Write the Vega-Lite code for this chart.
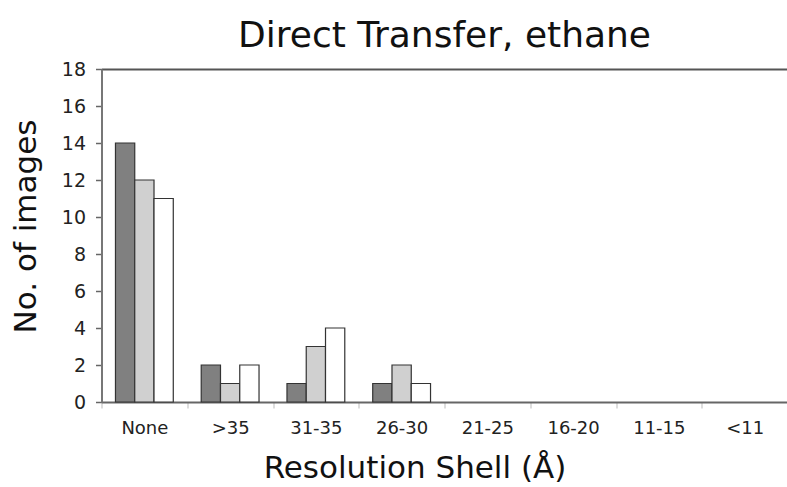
{
  "$schema": "https://vega.github.io/schema/vega-lite/v6.json",
  "width": 686,
  "height": 333,
  "autosize": {"type": "none"},
  "padding": {"left": 101.5, "top": 69, "right": 0, "bottom": 85},
  "background": "white",
  "title": {
    "text": "Direct Transfer, ethane",
    "font": "DejaVu Sans",
    "fontSize": 36,
    "fontWeight": "normal",
    "color": "#111111",
    "anchor": "middle",
    "offset": 5
  },
  "data": {
    "values": [
      {"shell": "None", "series": "A", "count": 14},
      {"shell": "None", "series": "B", "count": 12},
      {"shell": "None", "series": "C", "count": 11},
      {"shell": ">35", "series": "A", "count": 2},
      {"shell": ">35", "series": "B", "count": 1},
      {"shell": ">35", "series": "C", "count": 2},
      {"shell": "31-35", "series": "A", "count": 1},
      {"shell": "31-35", "series": "B", "count": 3},
      {"shell": "31-35", "series": "C", "count": 4},
      {"shell": "26-30", "series": "A", "count": 1},
      {"shell": "26-30", "series": "B", "count": 2},
      {"shell": "26-30", "series": "C", "count": 1},
      {"shell": "21-25", "series": "A", "count": 0},
      {"shell": "21-25", "series": "B", "count": 0},
      {"shell": "21-25", "series": "C", "count": 0},
      {"shell": "16-20", "series": "A", "count": 0},
      {"shell": "16-20", "series": "B", "count": 0},
      {"shell": "16-20", "series": "C", "count": 0},
      {"shell": "11-15", "series": "A", "count": 0},
      {"shell": "11-15", "series": "B", "count": 0},
      {"shell": "11-15", "series": "C", "count": 0},
      {"shell": "<11", "series": "A", "count": 0},
      {"shell": "<11", "series": "B", "count": 0},
      {"shell": "<11", "series": "C", "count": 0}
    ]
  },
  "mark": {"type": "bar", "strokeWidth": 1.2},
  "encoding": {
    "x": {
      "field": "shell",
      "type": "nominal",
      "sort": ["None", ">35", "31-35", "26-30", "21-25", "16-20", "11-15", "<11"],
      "scale": {"paddingInner": 0, "paddingOuter": 0},
      "axis": {
        "title": "Resolution Shell (Å)",
        "titleFont": "DejaVu Sans",
        "titleFontSize": 31,
        "titleFontWeight": "normal",
        "titleColor": "#111111",
        "titlePadding": 16,
        "titleX": 313,
        "labelFont": "DejaVu Sans",
        "labelFontSize": 18,
        "labelColor": "#222222",
        "labelAngle": 0,
        "labelPadding": 11,
        "tickBand": "extent",
        "tickSize": 6,
        "tickColor": "#bbbbbb",
        "tickWidth": 1,
        "domainColor": "#666666",
        "domainWidth": 2
      }
    },
    "xOffset": {
      "field": "series",
      "type": "nominal",
      "scale": {"paddingInner": 0, "paddingOuter": 0.725}
    },
    "y": {
      "field": "count",
      "type": "quantitative",
      "scale": {"domain": [0, 18], "nice": false},
      "axis": {
        "title": "No. of images",
        "titleFont": "DejaVu Sans",
        "titleFontSize": 31,
        "titleFontWeight": "normal",
        "titleColor": "#111111",
        "titlePadding": 19,
        "titleY": 157,
        "values": [0, 2, 4, 6, 8, 10, 12, 14, 16, 18],
        "labelFont": "DejaVu Sans",
        "labelFontSize": 19,
        "labelColor": "#222222",
        "labelPadding": 10,
        "tickSize": 6,
        "tickColor": "#666666",
        "tickWidth": 1.5,
        "domainColor": "#777777",
        "domainWidth": 2,
        "grid": true,
        "gridColor": {"condition": {"test": "datum.value == 18", "value": "#555555"}, "value": null},
        "gridWidth": 2
      }
    },
    "fill": {
      "field": "series",
      "type": "nominal",
      "scale": {"domain": ["A", "B", "C"], "range": ["#808080", "#d0d0d0", "#ffffff"]},
      "legend": null
    },
    "stroke": {
      "condition": {"test": "datum.count == 0", "value": null},
      "value": "#333333"
    }
  },
  "config": {"view": {"stroke": null}}
}
